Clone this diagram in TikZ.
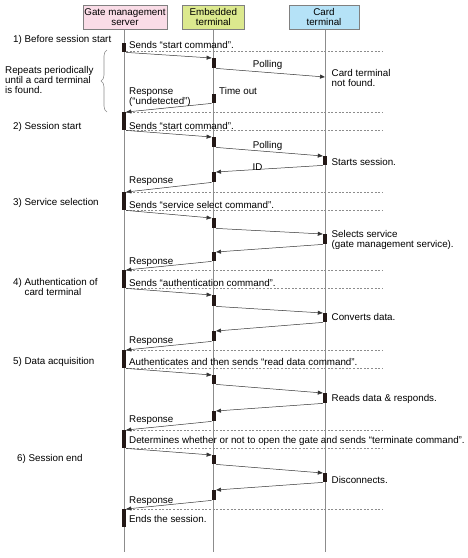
\documentclass[tikz,border=0pt]{standalone}
\usepackage{fontspec}
\setmainfont{Liberation Sans}
\usetikzlibrary{arrows.meta,decorations.pathreplacing}

\definecolor{serverpink}{HTML}{FADCE7}
\definecolor{embgreen}{HTML}{DCE98E}
\definecolor{cardblue}{HTML}{B5E2F7}
\definecolor{barblack}{HTML}{231816}

\begin{document}
\begin{tikzpicture}[
      x=1pt, y=-1pt,
      font=\fontsize{9.8}{10}\selectfont,
      actor/.style={draw=black!50, line width=0.6pt, align=center,
        minimum height=24.5pt, inner sep=1pt},
      life/.style={draw=black!45, line width=0.6pt},
      act/.style={fill=barblack, inner sep=0pt, minimum width=4pt, anchor=north},
      msg/.style={-{Triangle[length=5pt, width=4pt]}, draw=black!80, line width=0.5pt},
      sep/.style={draw=black!45, dash pattern=on 2pt off 1.6pt, line width=0.5pt},
      lbl/.style={anchor=base west, inner sep=0pt, align=left},
      mid/.style={anchor=base, inner sep=0pt},
      brace/.style={draw=black!45, line width=0.6pt,
        decorate, decoration={brace, amplitude=6pt}}
    ]
    \useasboundingbox (0,0) rectangle (468,558);

    % participants
    \node[actor, fill=serverpink, minimum width=84pt] (server) at (125,17.3) {Gate management\\server};
    \node[actor, fill=embgreen, minimum width=61.5pt] (emb) at (213.3,17.3) {Embedded\\terminal};
    \node[actor, fill=cardblue, minimum width=70pt] (card) at (324,17.3) {Card\\terminal};

    \coordinate (bottom) at (0,552);
    \coordinate (srvtop) at (124,0 |- server.south);
    \coordinate (cardtop) at (325,0 |- card.south);
    \draw[life] (srvtop) -- (srvtop |- bottom);
    \draw[life] (emb.south) -- (emb.south |- bottom);
    \draw[life] (cardtop) -- (cardtop |- bottom);

    % activations
    \node[act, minimum height=9pt] (s1) at (124,43) {};
    \node[act, minimum height=18pt] (s2) at (124,112) {};
    \node[act, minimum height=18pt] (s3) at (124,192) {};
    \node[act, minimum height=18pt] (s4) at (124,270) {};
    \node[act, minimum height=18pt] (s5) at (124,350) {};
    \node[act, minimum height=18pt] (s6) at (124,430) {};
    \node[act, minimum height=18pt] (s7) at (124,509) {};

    \node[act, minimum height=10pt] (e1) at (213.8,58) {};
    \node[act, minimum height=9pt] (e2) at (213.8,94) {};
    \node[act, minimum height=10pt] (e3) at (213.8,137) {};
    \node[act, minimum height=10pt] (e4) at (213.8,172) {};
    \node[act, minimum height=10pt] (e5) at (213.8,218) {};
    \node[act, minimum height=9pt] (e6) at (213.8,252) {};
    \node[act, minimum height=11pt] (e7) at (213.8,295) {};
    \node[act, minimum height=10pt] (e8) at (213.8,331) {};
    \node[act, minimum height=9pt] (e9) at (213.8,375) {};
    \node[act, minimum height=10pt] (e10) at (213.8,411) {};
    \node[act, minimum height=9pt] (e11) at (213.8,455) {};
    \node[act, minimum height=10pt] (e12) at (213.8,490) {};

    \node[act, minimum height=9pt] (c1) at (325,156) {};
    \node[act, minimum height=10pt] (c2) at (325,234) {};
    \node[act, minimum height=9pt] (c3) at (325,313) {};
    \node[act, minimum height=10pt] (c4) at (325,393) {};
    \node[act, minimum height=9pt] (c5) at (325,473) {};
    \coordinate (nf) at (325,77);

    % separators
    \draw[sep] (s1.south east) ++(0,-1.5) -- ++(256,0);
    \draw[sep] (s2.north east) -- ++(256,0);
    \draw[sep] (s2.south east) -- ++(256,0);
    \draw[sep] (s3.north east) -- ++(256,0);
    \draw[sep] (s3.south east) -- ++(256,0);
    \draw[sep] (s4.north east) -- ++(256,0);
    \draw[sep] (s4.south east) -- ++(256,0);
    \draw[sep] (s5.north east) -- ++(256,0);
    \draw[sep] (s5.south east) -- ++(256,0);
    \draw[sep] (s6.north east) -- ++(256,0);
    \draw[sep] (s6.south east) -- ++(256,0);
    \draw[sep] (s7.north east) -- ++(256,0);

    % messages
    \draw[msg] (s1.south east) -- (e1.north west);
    \draw[msg] (e1.south east) -- (nf);
    \draw[msg] (e2.south west) -- (s2.north east);
    \draw[msg] (s2.south east) -- (e3.north west);
    \draw[msg] (e3.south east) -- (c1.north west);
    \draw[msg] (c1.south west) -- (e4.north east);
    \draw[msg] (e4.south west) -- (s3.north east);
    \draw[msg] (s3.south east) -- (e5.north west);
    \draw[msg] (e5.south east) -- (c2.north west);
    \draw[msg] (c2.south west) -- (e6.north east);
    \draw[msg] (e6.south west) -- (s4.north east);
    \draw[msg] (s4.south east) -- (e7.north west);
    \draw[msg] (e7.south east) -- (c3.north west);
    \draw[msg] (c3.south west) -- (e8.north east);
    \draw[msg] (e8.south west) -- (s5.north east);
    \draw[msg] (s5.south east) -- (e9.north west);
    \draw[msg] (e9.south east) -- (c4.north west);
    \draw[msg] (c4.south west) -- (e10.north east);
    \draw[msg] (e10.south west) -- (s6.north east);
    \draw[msg] (s6.south east) -- (e11.north west);
    \draw[msg] (e11.south east) -- (c5.north west);
    \draw[msg] (c5.south west) -- (e12.north east);
    \draw[msg] (e12.south west) -- (s7.north east);

    \coordinate (brtop) at (107,50);
    \coordinate (brbot) at (107,112);
    \draw[brace] (brbot) -- (brtop);

    % phases (multi-line nodes sit on their last line)
    \node[lbl] (ph1) at (13,42) {1) Before session start};
    \node[lbl] (ph2) at (13,129.5) {2) Session start};
    \node[lbl] (ph3) at (13,205.5) {3) Service selection};
    \node[lbl] (ph4) at (13,295.5) {4) Authentication of\\\phantom{4) }card terminal};
    \node[lbl] (ph5) at (13,364.5) {5) Data acquisition};
    \node[lbl] (ph6) at (17,461.5) {6) Session end};
    \node[lbl] (repeat) at (5,93) {Repeats periodically\\until a card terminal\\is found.};

    % server side texts
    \node[lbl] (t1) at (129,48.5) {Sends “start command”.};
    \node[lbl] (t2) at (129,104.5) {Response\\(“undetected”)};
    \node[lbl] (t3) at (129,129) {Sends “start command”.};
    \node[lbl] (t4) at (129,183.5) {Response};
    \node[lbl] (t5) at (129,208) {Sends “service select command”.};
    \node[lbl] (t6) at (129,264) {Response};
    \node[lbl] (t7) at (129,286) {Sends “authentication command”.};
    \node[lbl] (t8) at (129,343) {Response};
    \node[lbl] (t9) at (129,365.5) {Authenticates and then sends “read data command”.};
    \node[lbl] (t10) at (129,422.5) {Response};
    \node[lbl] (t11) at (129,443.5) {Determines whether or not to open the gate and sends “terminate command”.};
    \node[lbl] (t12) at (129,503) {Response};
    \node[lbl] (t13) at (129,522.5) {Ends the session.};

    % middle texts
    \node[mid] (poll1) at (267.5,67.5) {Polling};
    \node[mid] (poll2) at (267.5,148) {Polling};
    \node[mid] (idtxt) at (257.5,170) {ID};
    \node[lbl] (tout) at (219,94.5) {Time out};

    % card side texts
    \node[lbl] (n1) at (331.5,86) {Card terminal\\not found.};
    \node[lbl] (n2) at (331.5,165) {Starts session.};
    \node[lbl] (n3) at (331.5,247) {Selects service\\(gate management service).};
    \node[lbl] (n4) at (331.5,320.5) {Converts data.};
    \node[lbl] (n5) at (331.5,401.5) {Reads data \& responds.};
    \node[lbl] (n6) at (331.5,483) {Disconnects.};
  \end{tikzpicture}
\end{document}
